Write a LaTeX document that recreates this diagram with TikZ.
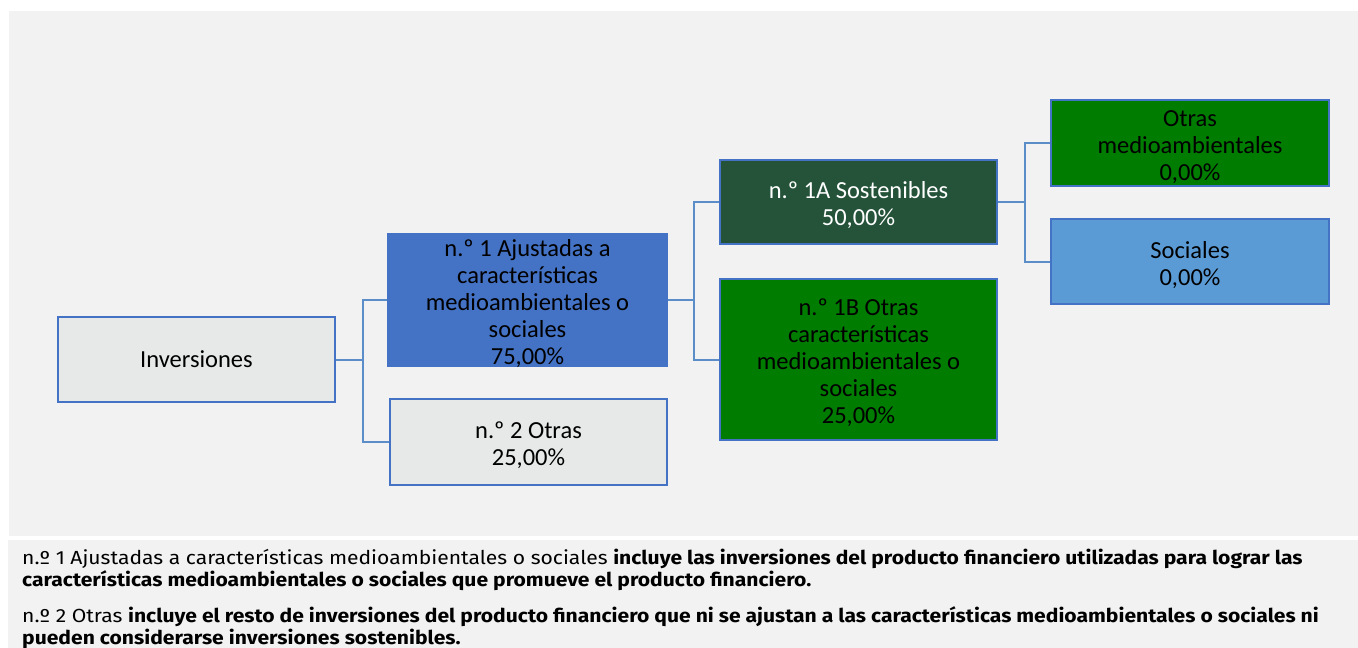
\documentclass[tikz,border=0pt]{standalone}
\usepackage{fontspec}
\setmainfont{Carlito}
\newfontfamily\notefont[FakeStretch=1.11]{Fira Sans}
\usetikzlibrary{positioning,calc}

\definecolor{panelgray}{HTML}{F2F2F2}
\definecolor{boxgray}{HTML}{E7E9E9}
\definecolor{boxblue}{HTML}{4472C4}
\definecolor{skyblue}{HTML}{5B9BD5}
\definecolor{darkgreen}{HTML}{25533A}
\definecolor{midgreen}{HTML}{007C00}
\definecolor{linkblue}{HTML}{5B8DC8}

\newcommand\topgap{\rule{0pt}{24pt}}

\begin{document}
\begin{tikzpicture}[x=1pt,y=-1pt,
  box/.style={draw=boxblue, line width=2pt, minimum width=277pt, align=center,
    inner xsep=2pt, inner ysep=-2.5pt, font=\fontsize{24.5}{27}\selectfont},
  link/.style={draw=linkblue, line width=2pt},
  note/.style={anchor=west, align=left, inner sep=0pt,
    font=\notefont\fontsize{19}{22}\selectfont}]
\useasboundingbox (0,0) rectangle (1358,648);

% Panels
\fill[panelgray] (9,11) rectangle (1358,536);
\fill[panelgray] (8,540) rectangle (1358,648);

% Boxes
\node[box, fill=boxgray, minimum height=85pt] (inv) at (196.5,359.5) {Inversiones};
\node[box, fill=boxblue, minimum height=132pt, minimum width=279pt] (one) at (527.5,300)
  {\topgap n.º 1 Ajustadas a\\características\\medioambientales o\\sociales\\75,00\%};
\node[box, fill=boxgray, minimum height=86pt] (two) at (528.5,442) {\topgap n.º 2 Otras\\25,00\%};
\node[box, fill=darkgreen, text=white, minimum height=84pt] (oneA) at (858.5,202)
  {\topgap n.º 1A Sostenibles\\50,00\%};
\node[box, fill=midgreen, minimum height=161pt] (oneB) at (858.5,359.5)
  {\topgap n.º 1B Otras\\características\\medioambientales o\\sociales\\25,00\%};
\node[box, fill=midgreen, minimum height=86pt, minimum width=278pt] (envo) at (1190,143)
  {\topgap Otras\\medioambientales\\0,00\%};
\node[box, fill=skyblue, minimum height=85pt, minimum width=278pt] (soc) at (1190,261.5)
  {\topgap Sociales\\0,00\%};

% Links
\draw[link] (inv.east) -- ++(26.5,0) coordinate (j1);
\draw[link] (j1) |- (one.west);
\draw[link] (j1) |- (two.west);
\draw[link] (one.east) -- ++(26,0) coordinate (j2);
\draw[link] (j2) |- (oneA.west);
\draw[link] (j2) |- (oneB.west);
\draw[link] (oneA.east) -- ++(27,0) coordinate (j3);
\draw[link] (j3) |- (envo.west);
\draw[link] (j3) |- (soc.west);

% Notes
\node[note] (note1) at (22,570)
  {n.º 1 Ajustadas a características medioambientales o sociales \textbf{incluye las inversiones del producto financiero utilizadas para lograr las}\\
   \textbf{características medioambientales o sociales que promueve el producto financiero.}};
\node[note] (note2) at (22,628)
  {n.º 2 Otras \textbf{incluye el resto de inversiones del producto financiero que ni se ajustan a las características medioambientales o sociales ni}\\
   \textbf{pueden considerarse inversiones sostenibles.}};
\end{tikzpicture}
\end{document}
